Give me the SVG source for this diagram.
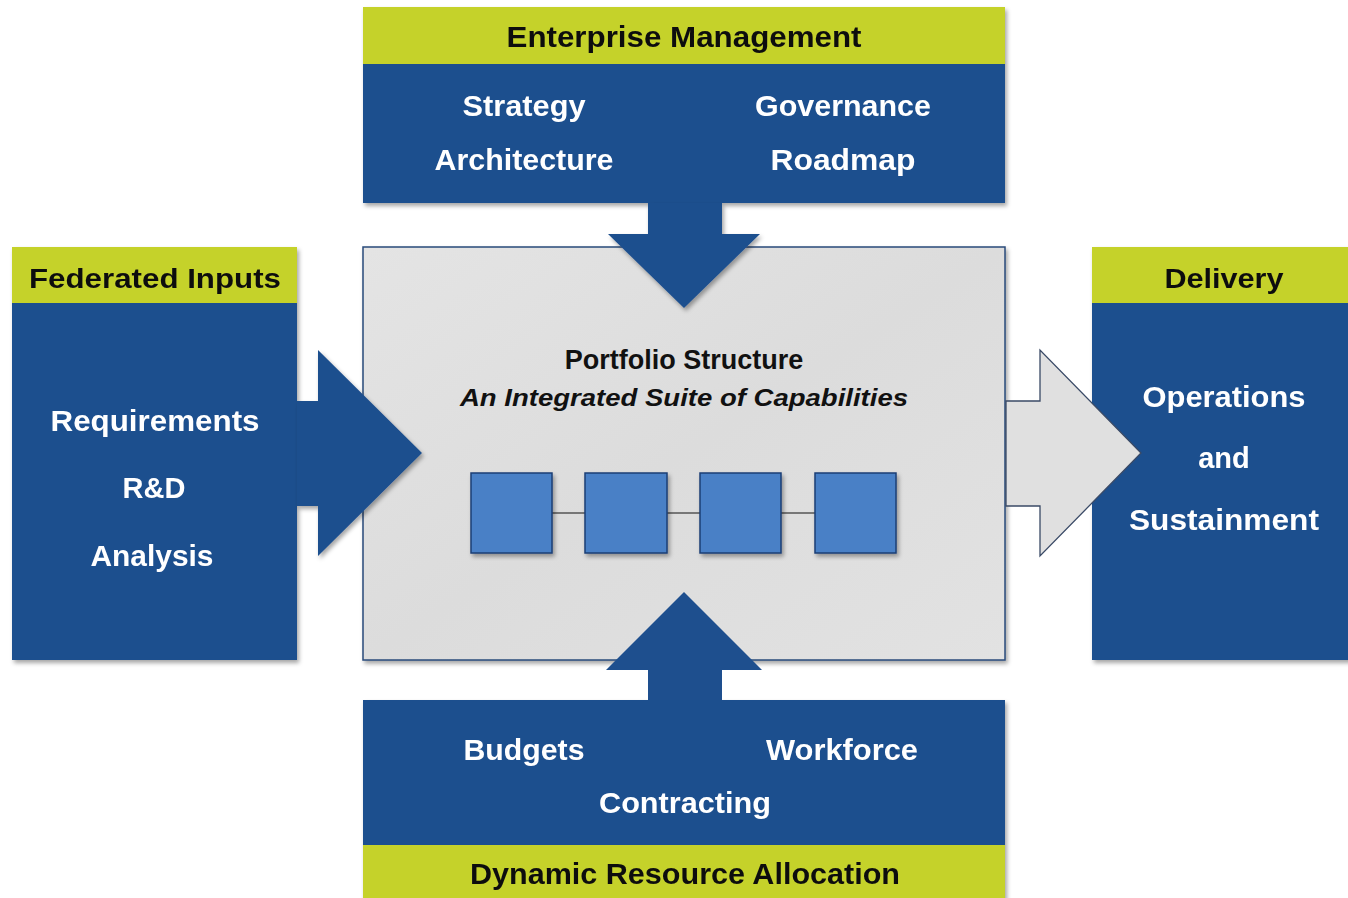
<svg xmlns="http://www.w3.org/2000/svg" width="1348" height="898" viewBox="0 0 1348 898">
<defs>
<filter id="sh" x="-5%" y="-5%" width="115%" height="115%">
<feDropShadow dx="2" dy="3" stdDeviation="2" flood-color="#000" flood-opacity="0.35"/>
</filter>
<linearGradient id="gray" x1="0" y1="0" x2="1" y2="1">
<stop offset="0" stop-color="#e4e4e4"/>
<stop offset="0.5" stop-color="#dcdcdc"/>
<stop offset="1" stop-color="#e2e2e2"/>
</linearGradient>
</defs>
<style>
.blue{fill:#1e4f8e}
.yel{fill:#c5d22b}
.t{font-family:"Liberation Sans Narrow","Liberation Sans",Arial,sans-serif;font-weight:bold;text-anchor:middle}
.w{fill:#ffffff}
.k{fill:#111111}
.a{font-family:"Liberation Sans",Arial,sans-serif;font-weight:bold;text-anchor:middle}
.sq{fill:#4a80c6;stroke:#1c3f75;stroke-width:1.5}
</style>
<rect width="1348" height="898" fill="#ffffff"/>

<g id="portfolio">
<rect x="363" y="247" width="642" height="413" fill="url(#gray)" stroke="#2a4a7a" stroke-width="1.5" filter="url(#sh)"/>
<text class="a k" x="684" y="369" font-size="27">Portfolio Structure</text>
<text class="a k" x="684" y="406" font-size="23" font-style="italic" textLength="448" lengthAdjust="spacingAndGlyphs">An Integrated Suite of Capabilities</text>
<g id="capabilities">
<line x1="552" y1="513" x2="815" y2="513" stroke="#555" stroke-width="1.5"/>
<rect class="sq" x="471" y="473" width="81" height="80" filter="url(#sh)"/>
<rect class="sq" x="585" y="473" width="82" height="80" filter="url(#sh)"/>
<rect class="sq" x="700" y="473" width="81" height="80" filter="url(#sh)"/>
<rect class="sq" x="815" y="473" width="81" height="80" filter="url(#sh)"/>
</g>
</g>

<g id="enterprise-management" filter="url(#sh)">
<rect class="blue" x="363" y="7" width="642" height="196"/>
<rect class="yel" x="363" y="7" width="642" height="57"/>
<text class="t k" x="684" y="47" font-size="29" textLength="355" lengthAdjust="spacingAndGlyphs">Enterprise Management</text>
<text class="t w" x="524" y="116" font-size="30" textLength="123" lengthAdjust="spacingAndGlyphs">Strategy</text>
<text class="t w" x="524" y="170" font-size="30" textLength="179" lengthAdjust="spacingAndGlyphs">Architecture</text>
<text class="t w" x="843" y="116" font-size="30" textLength="176" lengthAdjust="spacingAndGlyphs">Governance</text>
<text class="t w" x="843" y="170" font-size="30" textLength="145" lengthAdjust="spacingAndGlyphs">Roadmap</text>
</g>

<g id="federated-inputs" filter="url(#sh)">
<rect class="blue" x="12" y="247" width="285" height="413"/>
<rect class="yel" x="12" y="247" width="285" height="56"/>
<text class="a k" x="155" y="288" font-size="27" textLength="252" lengthAdjust="spacingAndGlyphs">Federated Inputs</text>
<text class="a w" x="155" y="431" font-size="29" textLength="209" lengthAdjust="spacingAndGlyphs">Requirements</text>
<text class="a w" x="154" y="498" font-size="29">R&amp;D</text>
<text class="a w" x="152" y="566" font-size="29" textLength="123" lengthAdjust="spacingAndGlyphs">Analysis</text>
</g>

<g id="delivery" filter="url(#sh)">
<rect class="blue" x="1092" y="247" width="260" height="413"/>
<rect class="yel" x="1092" y="247" width="260" height="56"/>
<text class="a k" x="1224" y="288" font-size="27" textLength="119" lengthAdjust="spacingAndGlyphs">Delivery</text>
<text class="a w" x="1224" y="407" font-size="29" textLength="163" lengthAdjust="spacingAndGlyphs">Operations</text>
<text class="a w" x="1224" y="468" font-size="29">and</text>
<text class="a w" x="1224" y="530" font-size="29" textLength="190" lengthAdjust="spacingAndGlyphs">Sustainment</text>
</g>

<g id="dynamic-resource-allocation" filter="url(#sh)">
<rect class="blue" x="363" y="700" width="642" height="200"/>
<rect class="yel" x="363" y="845" width="642" height="55"/>
<text class="t w" x="524" y="760" font-size="30" textLength="121" lengthAdjust="spacingAndGlyphs">Budgets</text>
<text class="t w" x="842" y="760" font-size="30" textLength="152" lengthAdjust="spacingAndGlyphs">Workforce</text>
<text class="t w" x="685" y="813" font-size="30" textLength="172" lengthAdjust="spacingAndGlyphs">Contracting</text>
<text class="t k" x="685" y="884" font-size="29" textLength="430" lengthAdjust="spacingAndGlyphs">Dynamic Resource Allocation</text>
</g>

<g id="connectors">
<polygon class="blue" points="648,203 722,203 722,234 760,234 684,308 608,234 648,234" filter="url(#sh)"/>
<polygon class="blue" points="648,700 722,700 722,670 762,670 684,592 606,670 648,670"/>
<polygon class="blue" points="297,401 318,401 318,350 422,453 318,556 318,506 297,506" filter="url(#sh)"/>
<polygon points="1006,401 1040,401 1040,350 1141,453 1040,556 1040,506 1006,506" fill="#e0e0e0" stroke="#3a4a66" stroke-width="1.3"/>
</g>
</svg>
